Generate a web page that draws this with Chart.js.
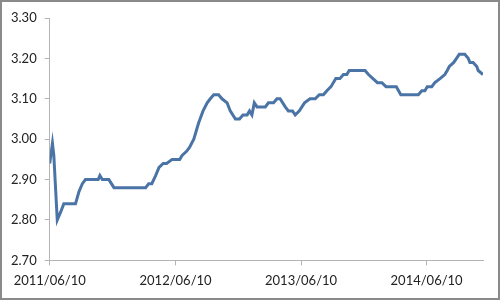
<!DOCTYPE html>
<html>
<head>
<meta charset="utf-8">
<script src="https://cdn.jsdelivr.net/npm/chart.js@4.4.1/dist/chart.umd.min.js"></script>
<style>
  html, body { margin: 0; padding: 0; background: #fff; }
  #wrap { width: 500px; height: 300px; }
</style>
</head>
<body>
<div id="wrap"><canvas id="rate_chart" width="500" height="300"></canvas></div>
<script>
const startDate = "2011/06/10";

const dates = [
  "2011/06/10", "2011/06/18", "2011/06/22", "2011/07/02", "2011/07/12", "2011/07/21",
  "2011/08/24", "2011/09/03", "2011/09/13", "2011/09/22", "2011/10/29", "2011/11/03",
  "2011/11/10", "2011/11/29", "2011/12/14", "2012/03/15", "2012/03/24", "2012/04/02",
  "2012/04/13", "2012/04/23", "2012/05/05", "2012/05/15", "2012/05/31", "2012/06/22",
  "2012/06/29", "2012/07/12", "2012/07/21", "2012/08/02", "2012/08/16", "2012/08/29",
  "2012/09/10", "2012/09/19", "2012/09/29", "2012/10/13", "2012/10/23", "2012/11/07",
  "2012/11/16", "2012/12/01", "2012/12/13", "2012/12/23", "2013/01/04", "2013/01/11",
  "2013/01/18", "2013/01/25", "2013/02/02", "2013/02/26", "2013/03/07", "2013/03/22",
  "2013/04/01", "2013/04/10", "2013/04/25", "2013/05/04", "2013/05/16", "2013/05/24",
  "2013/06/05", "2013/06/20", "2013/07/06", "2013/07/21", "2013/08/02", "2013/08/14",
  "2013/08/24", "2013/09/05", "2013/09/19", "2013/10/01", "2013/10/11", "2013/10/21",
  "2013/10/28", "2013/12/13", "2013/12/23", "2014/01/05", "2014/01/18", "2014/01/31",
  "2014/02/12", "2014/03/14", "2014/03/27", "2014/05/17", "2014/05/27", "2014/06/05",
  "2014/06/12", "2014/06/25", "2014/07/04", "2014/07/19", "2014/08/02", "2014/08/09",
  "2014/08/15", "2014/08/28", "2014/09/05", "2014/09/13", "2014/09/29", "2014/10/09",
  "2014/10/14", "2014/10/23", "2014/11/03", "2014/11/07", "2014/11/21"
];

const rates = [
  2.94, 2.99, 2.96, 2.80, 2.82, 2.84,
  2.84, 2.87, 2.89, 2.90, 2.90, 2.91,
  2.90, 2.90, 2.88, 2.88, 2.89, 2.89,
  2.91, 2.93, 2.94, 2.94, 2.95, 2.95,
  2.96, 2.97, 2.98, 3.00, 3.04, 3.07,
  3.09, 3.10, 3.11, 3.11, 3.10, 3.09,
  3.07, 3.05, 3.05, 3.06, 3.06, 3.07,
  3.06, 3.09, 3.08, 3.08, 3.09, 3.09,
  3.10, 3.10, 3.08, 3.07, 3.07, 3.06,
  3.07, 3.09, 3.10, 3.10, 3.11, 3.11,
  3.12, 3.13, 3.15, 3.15, 3.16, 3.16,
  3.17, 3.17, 3.16, 3.15, 3.14, 3.14,
  3.13, 3.13, 3.11, 3.11, 3.12, 3.12,
  3.13, 3.13, 3.14, 3.15, 3.16, 3.17,
  3.18, 3.19, 3.20, 3.21, 3.21, 3.20,
  3.19, 3.19, 3.18, 3.17, 3.16
];

const tickDates = ["2011/06/10", "2012/06/10", "2013/06/10", "2014/06/10"];

function dayOffset(s) {
  let p = s.split("/").map(Number);
  let q = startDate.split("/").map(Number);
  return Math.round((Date.UTC(p[0], p[1] - 1, p[2]) - Date.UTC(q[0], q[1] - 1, q[2])) / 86400000);
}

const frame = {
  id: "frame",
  afterDraw(chart) {
    const c = chart.ctx;
    c.save();
    c.strokeStyle = "#8a8a8a";
    c.lineWidth = 2;
    c.strokeRect(1, 1, chart.width - 2, chart.height - 2);
    c.restore();
  }
};

function init() {
  const ctx = document.getElementById("rate_chart");
  let points = dates.map((d, i) => ({ x: dayOffset(d), y: rates[i] }));
  let tickDays = tickDates.map(dayOffset);

  new Chart(ctx, {
    type: "line",
    data: {
      datasets: [{
        data: points,
        borderColor: "#4a74a5",
        borderWidth: 3,
        pointRadius: 0,
        tension: 0,
        fill: false
      }]
    },
    options: {
      responsive: false,
      animation: false,
      layout: { padding: { left: 3, right: 17, top: 18, bottom: 3 } },
      plugins: { legend: { display: false }, tooltip: { enabled: false } },
      scales: {
        x: {
          type: "linear",
          min: 0,
          max: points[points.length - 1].x,
          afterBuildTicks: (axis) => {
            axis.ticks = tickDays.map((v) => ({ value: v }));
          },
          grid: { drawOnChartArea: false, drawTicks: true, tickLength: 5, color: "#b4b4b4" },
          border: { display: true, color: "#b4b4b4", width: 1 },
          ticks: {
            autoSkip: false,
            maxRotation: 0,
            padding: 8,
            color: "#222",
            font: { family: "Lato", size: 13 },
            callback: (v) => {
              let i = tickDays.indexOf(v);
              return i >= 0 ? tickDates[i] : "";
            }
          }
        },
        y: {
          min: 2.7,
          max: 3.3,
          grid: { drawOnChartArea: false, drawTicks: true, tickLength: 5, color: "#b4b4b4" },
          border: { display: true, color: "#b4b4b4", width: 1 },
          ticks: {
            stepSize: 0.1,
            padding: 8,
            color: "#222",
            font: { family: "Lato", size: 13 },
            callback: (v) => Number(v).toFixed(2)
          }
        }
      }
    },
    plugins: [frame]
  });
}

window.onload = init;
</script>
</body>
</html>
